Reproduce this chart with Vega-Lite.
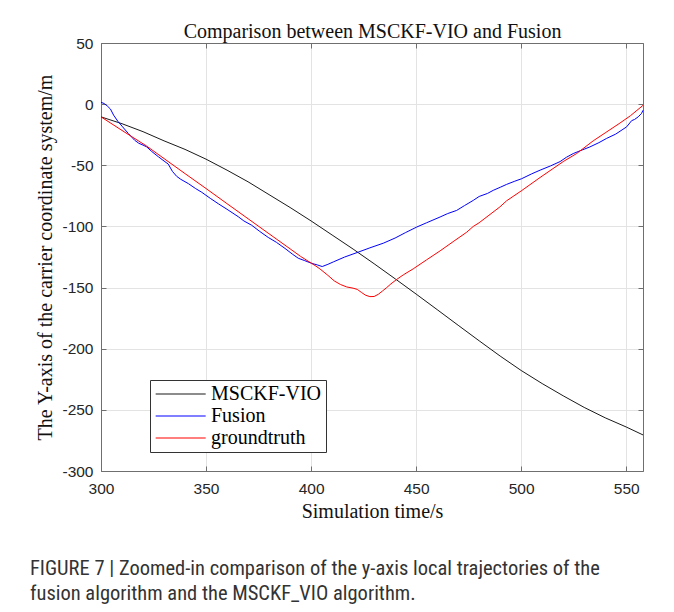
{
  "$schema": "https://vega.github.io/schema/vega-lite/v6.json",
  "width": 542,
  "height": 428,
  "autosize": {"type": "none"},
  "padding": {"left": 101, "top": 43, "right": 31, "bottom": 141},
  "background": "white",
  "title": {
    "text": ["FIGURE 7 | Zoomed-in comparison of the y-axis local trajectories of the", "fusion algorithm and the MSCKF_VIO algorithm."],
    "orient": "bottom",
    "anchor": "start",
    "frame": "group",
    "font": "Roboto Condensed, Liberation Sans",
    "fontSize": 20.5,
    "fontWeight": "normal",
    "color": "#333333",
    "offset": 37,
    "dx": -71,
    "lineHeight": 25
  },
  "config": {
    "view": {"stroke": null},
    "axis": {
      "domainColor": "#6f6f6f",
      "domainWidth": 1,
      "tickColor": "#6f6f6f",
      "tickSize": -5,
      "gridColor": "#e3e3e3",
      "gridWidth": 1,
      "labelFont": "Liberation Sans",
      "labelFontSize": 15.5,
      "labelColor": "#262626",
      "labelFlush": false,
      "labelExpr": "'' + datum.value",
      "titleFont": "Liberation Serif",
      "titleFontSize": 20,
      "titleFontWeight": "normal",
      "titleColor": "#111111"
    }
  },
  "data": {
    "values": [
      {"s": "MSCKF-VIO", "t": 300, "v": -10.4},
      {"s": "MSCKF-VIO", "t": 310, "v": -16},
      {"s": "MSCKF-VIO", "t": 320, "v": -22.5},
      {"s": "MSCKF-VIO", "t": 330, "v": -30},
      {"s": "MSCKF-VIO", "t": 340, "v": -37},
      {"s": "MSCKF-VIO", "t": 350, "v": -45},
      {"s": "MSCKF-VIO", "t": 360, "v": -54},
      {"s": "MSCKF-VIO", "t": 370, "v": -63.5},
      {"s": "MSCKF-VIO", "t": 380, "v": -74},
      {"s": "MSCKF-VIO", "t": 390, "v": -84.5},
      {"s": "MSCKF-VIO", "t": 400, "v": -95.5},
      {"s": "MSCKF-VIO", "t": 410, "v": -107},
      {"s": "MSCKF-VIO", "t": 420, "v": -118.5},
      {"s": "MSCKF-VIO", "t": 430, "v": -130.5},
      {"s": "MSCKF-VIO", "t": 440, "v": -142.8},
      {"s": "MSCKF-VIO", "t": 450, "v": -155.3},
      {"s": "MSCKF-VIO", "t": 460, "v": -168},
      {"s": "MSCKF-VIO", "t": 470, "v": -180.8},
      {"s": "MSCKF-VIO", "t": 480, "v": -193.5},
      {"s": "MSCKF-VIO", "t": 490, "v": -206},
      {"s": "MSCKF-VIO", "t": 500, "v": -217.8},
      {"s": "MSCKF-VIO", "t": 510, "v": -228.5},
      {"s": "MSCKF-VIO", "t": 520, "v": -238.5},
      {"s": "MSCKF-VIO", "t": 530, "v": -248},
      {"s": "MSCKF-VIO", "t": 540, "v": -256.5},
      {"s": "MSCKF-VIO", "t": 550, "v": -264},
      {"s": "MSCKF-VIO", "t": 558, "v": -270.5},

      {"s": "Fusion", "t": 300, "v": 1.5},
      {"s": "Fusion", "t": 301.5, "v": 0.5},
      {"s": "Fusion", "t": 303, "v": -1.5},
      {"s": "Fusion", "t": 304.5, "v": -4},
      {"s": "Fusion", "t": 306, "v": -9},
      {"s": "Fusion", "t": 308, "v": -14},
      {"s": "Fusion", "t": 310, "v": -18},
      {"s": "Fusion", "t": 313, "v": -24},
      {"s": "Fusion", "t": 316, "v": -29.5},
      {"s": "Fusion", "t": 318, "v": -32},
      {"s": "Fusion", "t": 320, "v": -33.5},
      {"s": "Fusion", "t": 321.8, "v": -35},
      {"s": "Fusion", "t": 324, "v": -38.5},
      {"s": "Fusion", "t": 327.3, "v": -43},
      {"s": "Fusion", "t": 330, "v": -46.5},
      {"s": "Fusion", "t": 332, "v": -49},
      {"s": "Fusion", "t": 334, "v": -55},
      {"s": "Fusion", "t": 336, "v": -59},
      {"s": "Fusion", "t": 338, "v": -61.5},
      {"s": "Fusion", "t": 341.6, "v": -65},
      {"s": "Fusion", "t": 345, "v": -69},
      {"s": "Fusion", "t": 347.9, "v": -72},
      {"s": "Fusion", "t": 352, "v": -77},
      {"s": "Fusion", "t": 355.8, "v": -81.4},
      {"s": "Fusion", "t": 360, "v": -86},
      {"s": "Fusion", "t": 365.3, "v": -92},
      {"s": "Fusion", "t": 368, "v": -95.5},
      {"s": "Fusion", "t": 371.7, "v": -99},
      {"s": "Fusion", "t": 375.5, "v": -104},
      {"s": "Fusion", "t": 379.6, "v": -109},
      {"s": "Fusion", "t": 383.5, "v": -113},
      {"s": "Fusion", "t": 387.6, "v": -118},
      {"s": "Fusion", "t": 391, "v": -122.5},
      {"s": "Fusion", "t": 393.9, "v": -126},
      {"s": "Fusion", "t": 397, "v": -128},
      {"s": "Fusion", "t": 400.3, "v": -130.2},
      {"s": "Fusion", "t": 403, "v": -131.5},
      {"s": "Fusion", "t": 405.3, "v": -132.8},
      {"s": "Fusion", "t": 408, "v": -131},
      {"s": "Fusion", "t": 410.6, "v": -129},
      {"s": "Fusion", "t": 416, "v": -125},
      {"s": "Fusion", "t": 422.5, "v": -121},
      {"s": "Fusion", "t": 428, "v": -117.5},
      {"s": "Fusion", "t": 434.4, "v": -113.7},
      {"s": "Fusion", "t": 440, "v": -109.5},
      {"s": "Fusion", "t": 445, "v": -105},
      {"s": "Fusion", "t": 450.3, "v": -100.5},
      {"s": "Fusion", "t": 455, "v": -97},
      {"s": "Fusion", "t": 461.4, "v": -92.3},
      {"s": "Fusion", "t": 465, "v": -89.5},
      {"s": "Fusion", "t": 469.3, "v": -86.9},
      {"s": "Fusion", "t": 473, "v": -83},
      {"s": "Fusion", "t": 477.2, "v": -78.7},
      {"s": "Fusion", "t": 480, "v": -75.5},
      {"s": "Fusion", "t": 484, "v": -73},
      {"s": "Fusion", "t": 486.7, "v": -70.5},
      {"s": "Fusion", "t": 490, "v": -68},
      {"s": "Fusion", "t": 493.1, "v": -65.6},
      {"s": "Fusion", "t": 497, "v": -63},
      {"s": "Fusion", "t": 500.2, "v": -61},
      {"s": "Fusion", "t": 505, "v": -57},
      {"s": "Fusion", "t": 509, "v": -54},
      {"s": "Fusion", "t": 514, "v": -50.5},
      {"s": "Fusion", "t": 518.5, "v": -47},
      {"s": "Fusion", "t": 521.5, "v": -43.5},
      {"s": "Fusion", "t": 524.8, "v": -40.4},
      {"s": "Fusion", "t": 529, "v": -37.5},
      {"s": "Fusion", "t": 532.7, "v": -35},
      {"s": "Fusion", "t": 537, "v": -31.5},
      {"s": "Fusion", "t": 540.7, "v": -28},
      {"s": "Fusion", "t": 545, "v": -24.5},
      {"s": "Fusion", "t": 550.2, "v": -18.6},
      {"s": "Fusion", "t": 552.6, "v": -13.5},
      {"s": "Fusion", "t": 554, "v": -12.5},
      {"s": "Fusion", "t": 555.7, "v": -10.4},
      {"s": "Fusion", "t": 557.3, "v": -7.6},
      {"s": "Fusion", "t": 558, "v": -5},

      {"s": "groundtruth", "t": 300, "v": -10.4},
      {"s": "groundtruth", "t": 310, "v": -21.5},
      {"s": "groundtruth", "t": 321.8, "v": -34.4},
      {"s": "groundtruth", "t": 330, "v": -44.5},
      {"s": "groundtruth", "t": 340, "v": -56.8},
      {"s": "groundtruth", "t": 350, "v": -69},
      {"s": "groundtruth", "t": 360, "v": -81.4},
      {"s": "groundtruth", "t": 370, "v": -93.7},
      {"s": "groundtruth", "t": 380, "v": -106},
      {"s": "groundtruth", "t": 390, "v": -118.3},
      {"s": "groundtruth", "t": 395, "v": -124.5},
      {"s": "groundtruth", "t": 401.9, "v": -132},
      {"s": "groundtruth", "t": 404.2, "v": -134.7},
      {"s": "groundtruth", "t": 408, "v": -140},
      {"s": "groundtruth", "t": 411, "v": -144.5},
      {"s": "groundtruth", "t": 414, "v": -147.5},
      {"s": "groundtruth", "t": 417, "v": -149.5},
      {"s": "groundtruth", "t": 420, "v": -150.5},
      {"s": "groundtruth", "t": 422, "v": -151.5},
      {"s": "groundtruth", "t": 424, "v": -154},
      {"s": "groundtruth", "t": 426, "v": -156.3},
      {"s": "groundtruth", "t": 428, "v": -157.4},
      {"s": "groundtruth", "t": 430, "v": -157.3},
      {"s": "groundtruth", "t": 432, "v": -155.5},
      {"s": "groundtruth", "t": 434, "v": -152.8},
      {"s": "groundtruth", "t": 436, "v": -150},
      {"s": "groundtruth", "t": 438, "v": -147},
      {"s": "groundtruth", "t": 440.7, "v": -143.4},
      {"s": "groundtruth", "t": 444, "v": -139.5},
      {"s": "groundtruth", "t": 448.6, "v": -134.7},
      {"s": "groundtruth", "t": 455, "v": -127.3},
      {"s": "groundtruth", "t": 461.4, "v": -120},
      {"s": "groundtruth", "t": 468, "v": -112},
      {"s": "groundtruth", "t": 474.1, "v": -104.7},
      {"s": "groundtruth", "t": 477.2, "v": -100},
      {"s": "groundtruth", "t": 480, "v": -97},
      {"s": "groundtruth", "t": 489.9, "v": -84},
      {"s": "groundtruth", "t": 493.1, "v": -79},
      {"s": "groundtruth", "t": 500, "v": -71},
      {"s": "groundtruth", "t": 509, "v": -60},
      {"s": "groundtruth", "t": 520, "v": -47},
      {"s": "groundtruth", "t": 526.4, "v": -40.4},
      {"s": "groundtruth", "t": 534.3, "v": -30},
      {"s": "groundtruth", "t": 540, "v": -23.5},
      {"s": "groundtruth", "t": 547, "v": -15.5},
      {"s": "groundtruth", "t": 552, "v": -9.5},
      {"s": "groundtruth", "t": 558, "v": -1}
    ]
  },
  "layer": [
    {
      "mark": {"type": "line", "strokeWidth": 1},
      "encoding": {
        "x": {
          "field": "t", "type": "quantitative",
          "scale": {"domain": [300, 558], "nice": false, "zero": false},
          "axis": {"title": "Simulation time/s", "values": [300, 350, 400, 450, 500, 550], "grid": true, "labelPadding": 15, "titlePadding": 5}
        },
        "y": {
          "field": "v", "type": "quantitative",
          "scale": {"domain": [-300, 50], "nice": false, "zero": false},
          "axis": {"title": "The Y-axis of the carrier coordinate system/m", "values": [-300, -250, -200, -150, -100, -50, 0, 50], "grid": true, "labelPadding": 13, "titlePadding": 6}
        },
        "color": {
          "field": "s", "type": "nominal",
          "scale": {"domain": ["MSCKF-VIO", "Fusion", "groundtruth"], "range": ["#1a1a1a", "#0000ff", "#ff0000"]},
          "legend": {
            "title": null,
            "orient": "none",
            "legendX": 49,
            "legendY": 337,
            "symbolType": "M-1,0H5",
            "symbolSize": 278,
            "symbolStrokeWidth": 1.2,
            "labelFont": "Liberation Serif",
            "labelFontSize": 20,
            "labelColor": "#000000",
            "labelOffset": 37,
            "fillColor": "#ffffff",
            "strokeColor": "#333333",
            "padding": 4,
            "rowPadding": 2
          }
        }
      }
    },
    {
      "mark": {"type": "line", "strokeOpacity": 0},
      "encoding": {
        "x": {
          "field": "t", "type": "quantitative",
          "axis": {"orient": "top", "labels": false, "grid": false, "values": [300, 350, 400, 450, 500, 550], "title": "Comparison between MSCKF-VIO and Fusion", "titlePadding": 1}
        },
        "y": {
          "field": "v", "type": "quantitative",
          "axis": {"orient": "right", "labels": false, "grid": false, "values": [-300, -250, -200, -150, -100, -50, 0, 50], "title": null}
        },
        "detail": {"field": "s", "type": "nominal"}
      }
    }
  ],
  "resolve": {"axis": {"x": "independent", "y": "independent"}}
}
